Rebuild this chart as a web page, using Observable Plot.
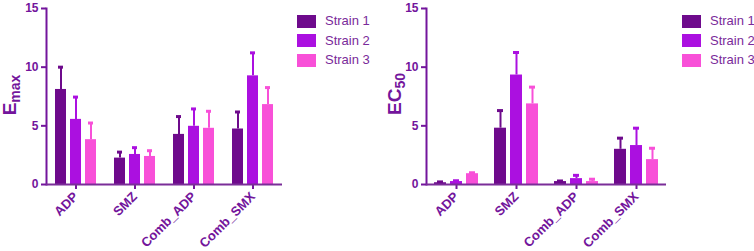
<!DOCTYPE html>
<html><head><meta charset="utf-8">
<script src="https://cdn.jsdelivr.net/npm/d3@7"></script>
<script src="https://cdn.jsdelivr.net/npm/@observablehq/plot@0.6"></script>
<style>
body{margin:0;background:#fff;font-family:"Liberation Sans",Arial,sans-serif;}
#wrap{position:relative;width:754px;height:251px;overflow:hidden;background:#fff}
.panel{position:absolute;top:0}
.item{position:absolute;display:flex;align-items:center;font-size:13px;color:#7a2a9a;white-space:nowrap;line-height:14px}
.sw{width:19px;height:13px;margin-right:9px}
</style></head><body><div id="wrap"></div>
<script>
const categories = ["ADP", "SMZ", "Comb_ADP", "Comb_SMX"];
const strains = ["Strain 1", "Strain 2", "Strain 3"];
const colors = ["#6e0a8c", "#ab10e0", "#f850d8"];
const yTicks = [0, 5, 10, 15];

// Emax means and SD (per strain, in category order)
const emaxStrain1 = [8.1, 2.25, 4.27, 4.73];
const emaxStrain2 = [5.55, 2.56, 4.96, 9.26];
const emaxStrain3 = [3.82, 2.39, 4.79, 6.81];
const emaxErr1 = [1.9, 0.51, 1.52, 1.45];
const emaxErr2 = [1.9, 0.58, 1.48, 1.96];
const emaxErr3 = [1.42, 0.49, 1.45, 1.45];

// EC50 means and SD
const ec50Strain1 = [0.15, 4.8, 0.25, 3.0];
const ec50Strain2 = [0.25, 9.33, 0.5, 3.32];
const ec50Strain3 = [0.92, 6.87, 0.25, 2.12];
const ec50Err1 = [0.07, 1.5, 0.05, 0.95];
const ec50Err2 = [0.07, 1.92, 0.28, 1.48];
const ec50Err3 = [0.08, 1.43, 0.2, 0.97];

const axisColor = "#7a2d98";
const textColor = "#73159c";

function table(means, errs) {
  const rows = [];
  categories.forEach((c, i) => {
    strains.forEach((s, j) => {
      rows.push({category: c, strain: s, mean: means[j][i], upper: means[j][i] + errs[j][i]});
    });
  });
  return rows;
}

function chart(data, width, marginRight) {
  const svg = Plot.plot({
    width, height: 251,
    marginTop: 8, marginBottom: 67, marginLeft: 45, marginRight,
    style: {fontFamily: "'Liberation Sans', Arial, sans-serif", fontSize: "12px", fontWeight: "bold", color: textColor, background: "transparent", overflow: "visible"},
    fx: {domain: categories, padding: 0, tickRotate: -45, tickSize: 5, tickPadding: 5, label: null},
    x: {domain: strains, axis: null, paddingInner: 0.25, paddingOuter: 0.49},
    y: {domain: [0, 15], ticks: yTicks, tickSize: 5, tickPadding: 3, label: null, line: true},
    color: {domain: strains, range: colors},
    marks: [
      Plot.barY(data, {fx: "category", x: "strain", y: "mean", fill: "strain"}),
      Plot.ruleX(data, {fx: "category", x: "strain", y1: "mean", y2: "upper", stroke: "strain", strokeWidth: 2}),
      Plot.tickY(data, {fx: "category", x: "strain", y: "upper", stroke: "strain", strokeWidth: 3, insetLeft: 3, insetRight: 3}),
      Plot.ruleY([0], {stroke: axisColor, strokeWidth: 2})
    ]
  });
  const s = d3.select(svg);
  s.selectAll('g[aria-label="fx-axis tick label"]').attr("font-size", 13);
  s.selectAll('g[aria-label="y-axis tick"], g[aria-label="fx-axis tick"]').attr("stroke", axisColor).attr("stroke-width", 2);
  s.selectAll('g[aria-label="frame"], g[aria-label="y-axis line"]').attr("stroke", axisColor).attr("stroke-width", 2);
  return svg;
}

function addLabel(svg, main, sub, x, y) {
  const t = d3.select(svg).append("text")
    .attr("transform", `translate(${x},${y}) rotate(-90)`)
    .attr("text-anchor", "middle")
    .attr("fill", textColor)
    .attr("font-weight", "bold")
    .attr("font-family", "'Liberation Sans', Arial, sans-serif")
    .attr("font-size", 19);
  t.append("tspan").text(main);
  t.append("tspan").attr("font-size", 14).attr("dy", 4).text(sub);
}

function legend(left) {
  const frag = document.createElement("div");
  strains.forEach((s, i) => {
    const it = document.createElement("div");
    it.className = "item";
    it.style.left = left + "px";
    it.style.top = (14 + i * 19.7) + "px";
    const sw = document.createElement("span");
    sw.className = "sw";
    sw.style.background = colors[i];
    it.appendChild(sw);
    it.appendChild(document.createTextNode(s));
    frag.appendChild(it);
  });
  return frag;
}

const wrap = document.getElementById("wrap");

const emax = chart(table([emaxStrain1, emaxStrain2, emaxStrain3], [emaxErr1, emaxErr2, emaxErr3]), 290, 7);
addLabel(emax, "E", "max", 16, 95);
const p1 = document.createElement("div"); p1.className = "panel"; p1.style.left = "0px";
p1.appendChild(emax); wrap.appendChild(p1);
wrap.appendChild(legend(297));

const ec50 = chart(table([ec50Strain1, ec50Strain2, ec50Strain3], [ec50Err1, ec50Err2, ec50Err3]), 295, 8);
addLabel(ec50, "EC", "50", 21, 94);
const p2 = document.createElement("div"); p2.className = "panel"; p2.style.left = "380px";
p2.appendChild(ec50); wrap.appendChild(p2);
wrap.appendChild(legend(682));
</script></body></html>
